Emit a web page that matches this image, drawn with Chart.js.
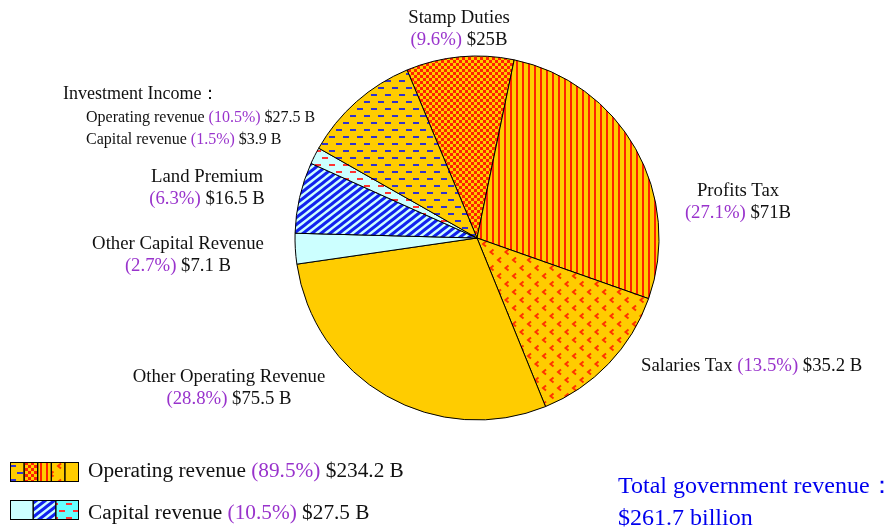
<!DOCTYPE html>
<html><head><meta charset="utf-8">
<script src="https://cdn.jsdelivr.net/npm/chart.js@4/dist/chart.umd.min.js"></script>
<style>
body{margin:0;background:#fff;width:890px;height:528px;overflow:hidden;position:relative;font-family:"Liberation Serif","Times New Roman",serif;color:#111;}
#c{position:absolute;left:0;top:0;}
.lbl{position:absolute;white-space:nowrap;}
.pct{color:#9933CC;}
.sw{position:absolute;}
</style></head><body>
<canvas id="c" width="890" height="528"></canvas>
<canvas class="sw" id="sw1" width="69" height="20" style="left:10px;top:462px"></canvas>
<canvas class="sw" id="sw2" width="69" height="20" style="left:10px;top:500px"></canvas>
<script>
// ---- data ----
const categories = ["Stamp Duties","Profits Tax","Salaries Tax","Other Operating Revenue","Other Capital Revenue","Land Premium","Investment Income: Capital revenue","Investment Income: Operating revenue"];
const revenueBillions = [25, 71, 35.2, 75.5, 7.1, 16.5, 3.9, 27.5];
const percentLabels = ["(9.6%)","(27.1%)","(13.5%)","(28.8%)","(2.7%)","(6.3%)","(1.5%)","(10.5%)"];
const amountLabels = ["$25B","$71B","$35.2 B","$75.5 B","$7.1 B","$16.5 B","$3.9 B","$27.5 B"];
const investHeading = "Investment Income：";
const groupNames = ["Operating revenue","Capital revenue"];
const groupPercents = ["(89.5%)","(10.5%)"];
const groupAmounts = ["$234.2 B","$27.5 B"];
const totalLabel = "Total government revenue：";
const totalAmount = "$261.7 billion";

// ---- patterns ----
const GOLD='#FFCC00', RED='#FF2200', CYAN='#CCFFFF';
function tile(w,h,draw){const c=document.createElement('canvas');c.width=w;c.height=h;const g=c.getContext('2d');draw(g,w,h);return c;}
const ctx0=document.getElementById('c').getContext('2d');
const dashTile=(bg,fg)=>tile(14,14,g=>{g.fillStyle=bg;g.fillRect(0,0,14,14);g.fillStyle=fg;g.fillRect(0,3,6,2);g.fillRect(7,10,6,2);});
const checkerTile=tile(6,6,g=>{g.fillStyle=RED;g.fillRect(0,0,6,6);g.fillStyle=GOLD;g.fillRect(0,0,3,3);g.fillRect(3,3,3,3);});
const vlineTile=tile(6,1,g=>{g.fillStyle=GOLD;g.fillRect(0,0,6,1);g.fillStyle='#FF2200';g.fillRect(0,0,2,1);});
const chevronTile=tile(15,16,g=>{g.fillStyle=GOLD;g.fillRect(0,0,15,16);g.strokeStyle='#FF3300';g.lineWidth=2;
  [[3,1.5],[10.5,9.5]].forEach(([x,y])=>{g.beginPath();g.moveTo(x+3,y);g.lineTo(x,y+2.5);g.lineTo(x+3,y+5);g.stroke();});});
const stripeTile=tile(9,7,g=>{g.fillStyle=CYAN;g.fillRect(0,0,9,7);g.strokeStyle='#1122EE';g.lineWidth=3;
  [-9,0,9].forEach(o=>{g.beginPath();g.moveTo(o-1.8,8.4);g.lineTo(o+10.8,-1.4);g.stroke();});});
const blueDash=dashTile(GOLD,'#3333CC');
const redDash=dashTile(CYAN,'#FF3333');
const P=t=>ctx0.createPattern(t,'repeat');
const fills=[P(checkerTile),P(vlineTile),P(chevronTile),GOLD,CYAN,P(stripeTile),P(redDash),P(blueDash)];

new Chart(ctx0,{type:'pie',
  data:{labels:categories,datasets:[{data:revenueBillions,backgroundColor:fills,borderColor:'#000',borderWidth:1}]},
  options:{responsive:false,animation:false,rotation:-22.6,radius:182,
    layout:{padding:{left:64,right:0,top:0,bottom:52}},
    plugins:{legend:{display:false},tooltip:{enabled:false}}}});

// ---- legend swatches ----
function swatch(id,segs){const c=document.getElementById(id);const g=c.getContext('2d');const W=c.width,H=c.height;
  let x=0.5;const sw=(W-1)/segs.length;
  segs.forEach(f=>{g.fillStyle=f;g.fillRect(x,0.5,sw,H-1);x+=sw;});
  g.strokeStyle='#000';g.lineWidth=1;x=0.5;
  segs.forEach(()=>{g.strokeRect(x,0.5,sw,H-1);x+=sw;});}
const gc=document.getElementById('sw1').getContext('2d');
swatch('sw1',[gc.createPattern(blueDash,'repeat'),gc.createPattern(checkerTile,'repeat'),gc.createPattern(vlineTile,'repeat'),gc.createPattern(chevronTile,'repeat'),GOLD]);
const gc2=document.getElementById('sw2').getContext('2d');
swatch('sw2',[CYAN,gc2.createPattern(stripeTile,'repeat'),gc2.createPattern(dashTile('#66FFFF','#FF3333'),'repeat')]);

// ---- text labels ----
function addText(html,x,baseline,size,align,color){const d=document.createElement('div');d.className='lbl';d.innerHTML=html;
  d.style.fontSize=size+'px';d.style.lineHeight=(size*1.2)+'px';d.style.top=(baseline-0.9375*size)+'px';d.style.left=x+'px';
  if(align==='center')d.style.transform='translateX(-50%)';if(color)d.style.color=color;document.body.appendChild(d);}
const pa=i=>`<span class="pct">${percentLabels[i]}</span> ${amountLabels[i]}`;
const F=18.75;
addText(categories[0],459,24,F,'center');addText(pa(0),459,46,F,'center');
addText(categories[1],738,197,F,'center');addText(pa(1),738,219,F,'center');
addText(categories[2]+' '+pa(2),641,372,F,'left');
addText(categories[3],229,383,F,'center');addText(pa(3),229,405,F,'center');
addText(categories[4],178,250,F,'center');addText(pa(4),178,272,F,'center');
addText(categories[5],207,183,F,'center');addText(pa(5),207,205,F,'center');
addText(investHeading,63,100,18,'left');
addText(groupNames[0]+' '+pa(7),86,122,16,'left');
addText(groupNames[1]+' '+pa(6),86,144,16,'left');
addText(`${groupNames[0]} <span class="pct">${groupPercents[0]}</span> ${groupAmounts[0]}`,88,478,21.3,'left');
addText(`${groupNames[1]} <span class="pct">${groupPercents[1]}</span> ${groupAmounts[1]}`,88,520,21.3,'left');
addText(totalLabel,618,493,24,'left','#0000EE');
addText(totalAmount,618,525,24,'left','#0000EE');
</script>
</body></html>
